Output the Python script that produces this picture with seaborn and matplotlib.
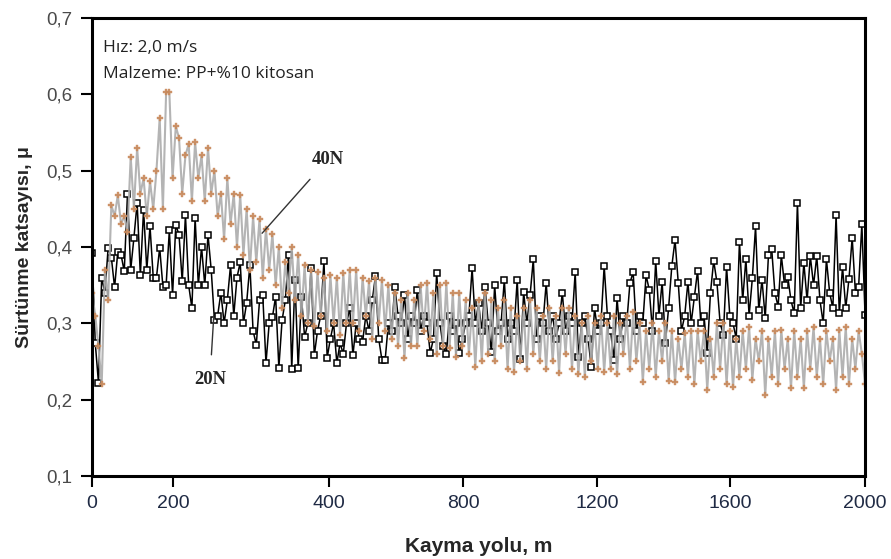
import numpy as np
import matplotlib
matplotlib.use("Agg")
import matplotlib.pyplot as plt
import seaborn as sns

# friction coefficient readings, 40N and 20N, evenly spaced along the sliding path
mu_40n = [
    0.34, 0.31, 0.27, 0.22, 0.37, 0.33, 0.455, 0.44, 0.468, 0.43, 0.44, 0.42, 0.518, 0.45, 0.53, 0.47, 0.49, 0.44, 0.486, 0.45,
    0.50, 0.569, 0.45, 0.603, 0.603, 0.49, 0.558, 0.543, 0.47, 0.52, 0.535, 0.46, 0.537, 0.49, 0.52, 0.46, 0.53, 0.47, 0.50, 0.44,
    0.47, 0.41, 0.49, 0.43, 0.47, 0.40, 0.468, 0.39, 0.45, 0.37, 0.44, 0.38, 0.437, 0.36, 0.424, 0.37, 0.417, 0.35, 0.40, 0.32,
    0.38, 0.34, 0.40, 0.33, 0.39, 0.31, 0.376, 0.30, 0.37, 0.296, 0.367, 0.31, 0.36, 0.29, 0.363, 0.30, 0.36, 0.285, 0.366, 0.30,
    0.37, 0.30, 0.37, 0.29, 0.36, 0.31, 0.355, 0.28, 0.36, 0.30, 0.357, 0.29, 0.35, 0.28, 0.34, 0.27, 0.33, 0.254, 0.34, 0.27,
    0.33, 0.27, 0.35, 0.29, 0.353, 0.28, 0.34, 0.26, 0.35, 0.27, 0.353, 0.268, 0.34, 0.256, 0.34, 0.27, 0.33, 0.26, 0.32, 0.243,
    0.33, 0.25, 0.34, 0.26, 0.33, 0.25, 0.32, 0.27, 0.33, 0.24, 0.32, 0.236, 0.31, 0.25, 0.32, 0.24, 0.33, 0.26, 0.32, 0.25,
    0.31, 0.24, 0.32, 0.25, 0.31, 0.235, 0.32, 0.26, 0.32, 0.24, 0.31, 0.233, 0.30, 0.23, 0.31, 0.25, 0.30, 0.24, 0.31, 0.236,
    0.30, 0.24, 0.309, 0.233, 0.30, 0.26, 0.31, 0.24, 0.315, 0.25, 0.30, 0.223, 0.29, 0.24, 0.30, 0.23, 0.29, 0.25, 0.30, 0.225,
    0.29, 0.223, 0.28, 0.24, 0.287, 0.23, 0.29, 0.22, 0.29, 0.25, 0.29, 0.213, 0.28, 0.23, 0.30, 0.24, 0.30, 0.22, 0.29, 0.216,
    0.28, 0.23, 0.29, 0.24, 0.295, 0.226, 0.28, 0.25, 0.29, 0.206, 0.28, 0.23, 0.29, 0.22, 0.291, 0.24, 0.28, 0.215, 0.29, 0.23,
    0.28, 0.215, 0.29, 0.24, 0.295, 0.23, 0.28, 0.22, 0.29, 0.25, 0.28, 0.213, 0.291, 0.23, 0.295, 0.22, 0.28, 0.24, 0.29, 0.26, 0.22,
]

mu_20n = [
    0.392, 0.274, 0.222, 0.36, 0.34, 0.399, 0.386, 0.347, 0.394, 0.39, 0.368, 0.469, 0.37, 0.412, 0.458, 0.363, 0.449, 0.37, 0.427, 0.36,
    0.36, 0.399, 0.348, 0.35, 0.422, 0.337, 0.429, 0.416, 0.355, 0.442, 0.35, 0.32, 0.438, 0.35, 0.40, 0.35, 0.416, 0.37, 0.304, 0.31,
    0.34, 0.30, 0.33, 0.376, 0.31, 0.36, 0.38, 0.30, 0.327, 0.376, 0.29, 0.272, 0.33, 0.337, 0.248, 0.30, 0.308, 0.335, 0.242, 0.304,
    0.33, 0.39, 0.24, 0.357, 0.241, 0.335, 0.282, 0.30, 0.372, 0.258, 0.29, 0.31, 0.382, 0.255, 0.28, 0.30, 0.248, 0.274, 0.26, 0.30,
    0.32, 0.258, 0.30, 0.28, 0.276, 0.31, 0.29, 0.33, 0.362, 0.28, 0.252, 0.252, 0.30, 0.29, 0.348, 0.31, 0.30, 0.337, 0.28, 0.31,
    0.30, 0.344, 0.29, 0.31, 0.30, 0.261, 0.28, 0.366, 0.30, 0.27, 0.26, 0.31, 0.29, 0.30, 0.261, 0.28, 0.30, 0.31, 0.372, 0.30,
    0.326, 0.29, 0.348, 0.30, 0.262, 0.35, 0.29, 0.30, 0.357, 0.28, 0.30, 0.29, 0.357, 0.253, 0.341, 0.30, 0.337, 0.384, 0.28, 0.31,
    0.30, 0.353, 0.29, 0.31, 0.28, 0.30, 0.34, 0.29, 0.31, 0.30, 0.367, 0.256, 0.30, 0.31, 0.28, 0.243, 0.32, 0.29, 0.30, 0.375,
    0.31, 0.29, 0.252, 0.333, 0.28, 0.31, 0.30, 0.353, 0.367, 0.29, 0.31, 0.30, 0.363, 0.344, 0.29, 0.382, 0.31, 0.354, 0.274, 0.32,
    0.375, 0.409, 0.353, 0.29, 0.31, 0.354, 0.30, 0.335, 0.369, 0.30, 0.31, 0.261, 0.34, 0.382, 0.354, 0.30, 0.285, 0.374, 0.31, 0.30,
    0.28, 0.407, 0.33, 0.384, 0.31, 0.359, 0.427, 0.317, 0.357, 0.307, 0.389, 0.398, 0.34, 0.322, 0.389, 0.35, 0.361, 0.33, 0.313, 0.458,
    0.32, 0.379, 0.33, 0.388, 0.35, 0.388, 0.33, 0.30, 0.384, 0.34, 0.32, 0.442, 0.313, 0.374, 0.32, 0.358, 0.412, 0.34, 0.348, 0.43, 0.311,
]

# the printed x labels sit at uneven places on the original axis
xtick_pos = [0, 210, 614, 960, 1306, 1651, 2000]
xtick_labels = ["0", "200", "400", "800", "1200", "1600", "2000"]
ytick_vals = [0.1, 0.2, 0.3, 0.4, 0.5, 0.6, 0.7]
ytick_labels = ["0,1", "0,2", "0,3", "0,4", "0,5", "0,6", "0,7"]

sns.set_style("white")
plt.rcParams['font.family'] = ['Liberation Sans', 'DejaVu Sans']

x40 = np.linspace(0, 2000, len(mu_40n))
x20 = np.linspace(0, 2000, len(mu_20n))

fig = plt.figure(figsize=(8.91, 5.59), dpi=100)
ax = fig.add_axes([0.1033, 0.1485, 0.8676, 0.8193])

sns.lineplot(x=x20, y=mu_20n, ax=ax, color="black", linewidth=1.1, sort=False,
             marker="s", markersize=4.2, markerfacecolor="white",
             markeredgecolor="black", markeredgewidth=1.1)
sns.lineplot(x=x40, y=mu_40n, ax=ax, color="#acacac", linewidth=1.5, sort=False,
             alpha=0.9, marker="P", markersize=4.5, markerfacecolor="#c98a5c",
             markeredgecolor="#c98a5c", markeredgewidth=0.3)

ax.set_xlim(0, 2000)
ax.set_ylim(0.1, 0.7)
ax.set_xticks(xtick_pos)
ax.set_xticklabels(xtick_labels, fontsize=14, color="#1f2a44",
                   family=['Liberation Sans Narrow', 'Liberation Sans'])
ax.set_yticks(ytick_vals)
ax.set_yticklabels(ytick_labels, fontsize=13.5, color="#4a4a4a")
ax.tick_params(axis="both", direction="out", length=8, width=1.5, color="black",
               left=True, bottom=True, pad=6)

for side in ["left", "bottom", "top", "right"]:
    ax.spines[side].set_color("black")
    ax.spines[side].set_linewidth(2.2)

ax.set_xlabel("Kayma yolu, m", fontsize=15, fontweight="bold",
              family=['Liberation Sans Narrow', 'Liberation Sans'], labelpad=18)
ax.set_ylabel("Sürtünme katsayısı, μ", fontsize=14, fontweight="bold", labelpad=10)

ax.text(0.014, 0.935, "Hız: 2,0 m/s", transform=ax.transAxes, fontsize=12.5,
        color="#222222", family=['Open Sans', 'DejaVu Sans'], va="center")
ax.text(0.014, 0.878, "Malzeme: PP+%10 kitosan", transform=ax.transAxes, fontsize=12.5,
        color="#222222", family=['Open Sans', 'DejaVu Sans'], va="center")

ax.annotate("40N", xy=(440, 0.418), xytext=(610, 0.515),
            fontsize=13.5, fontweight="bold", family=['Liberation Serif', 'DejaVu Serif'],
            ha="center", va="center",
            arrowprops=dict(arrowstyle="-", color="#333333", lw=1.0,
                            shrinkA=8, shrinkB=0))
ax.annotate("20N", xy=(315, 0.31), xytext=(305, 0.227),
            fontsize=13.5, fontweight="bold", family=['Liberation Serif', 'DejaVu Serif'],
            ha="center", va="center",
            arrowprops=dict(arrowstyle="-", color="#333333", lw=1.0,
                            shrinkA=9, shrinkB=0))

fig.savefig("out.png", dpi=100)
